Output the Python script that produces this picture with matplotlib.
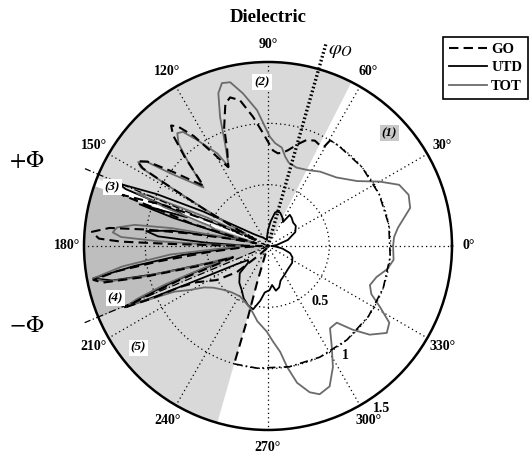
import numpy as np
import matplotlib
matplotlib.use("Agg")
import matplotlib.pyplot as plt
from matplotlib.lines import Line2D

plt.rcParams['font.family'] = ['Liberation Serif', 'DejaVu Serif']
plt.rcParams['mathtext.fontset'] = 'stix'

# TOT (gray) : angle in degrees, amplitude
tot_theta = [0, 4, 8, 11, 15, 20, 25, 30, 36, 45, 55, 62, 70, 76, 79, 82, 86, 89,
             94.6, 99.3, 103, 105.8, 108, 110.4, 112.7, 116.3, 118.7, 123.8, 126.7,
             128.8, 131.1, 133.3, 137.8, 143.3, 145.2, 147.1, 148.3, 148.8, 149.5,
             151, 153, 155, 157, 158, 159.5, 161, 163, 165, 167, 168, 169.5, 171,
             173, 175, 176.5, 177.5, 178.5, 180, 182, 185, 188, 190.5, 192.5, 194,
             195.5, 197, 198.5, 200.5, 202, 203, 204, 206, 209.4, 213, 217.4, 224.4,
             232, 241, 247, 253, 257.4, 262, 269.3, 273, 276.6, 279, 282, 285.9,
             289.2, 293.7, 298.2, 302.4, 307, 311.9, 315.3, 318.9, 323.8, 327.7,
             331.4, 335, 339, 344, 349, 353.7, 360]
tot_r = [1.02, 1.03, 1.07, 1.12, 1.20, 1.22, 1.18, 1.05, 0.90, 0.79, 0.74, 0.70, 0.68,
         0.70, 0.74, 0.81, 0.84, 0.89, 1.11, 1.26, 1.37, 1.38, 1.31, 1.12, 0.91, 0.72,
         0.86, 1.04, 1.16, 1.18, 1.11, 0.96, 0.71, 0.99, 1.20, 1.26, 1.22, 1.00, 0.70,
         0.35, 0.15, 0.55, 1.05, 1.15, 0.90, 0.50, 0.45, 0.20, 0.10, 0.30, 0.80, 1.10,
         1.24, 1.27, 1.20, 0.90, 0.50, 0.15, 0.30, 0.80, 1.20, 1.45, 1.35, 1.00, 0.60,
         0.30, 0.50, 0.90, 1.15, 1.25, 1.10, 0.85, 0.73, 0.62, 0.56, 0.51, 0.48, 0.47,
         0.49, 0.52, 0.56, 0.62, 0.70, 0.78, 0.87, 1.00, 1.14, 1.24, 1.28, 1.25, 1.12,
         0.97, 0.84, 0.84, 0.97, 1.10, 1.20, 1.17, 1.04, 0.93, 0.89, 0.92, 0.99, 1.03,
         1.02]

# GO (dashed)
go_theta = [59.5, 60.5, 62, 66, 70, 74, 78, 81, 84, 87, 92.5, 96.6, 100.9, 104.3, 106.7,
            110.3, 113, 116.8, 120, 124, 127, 128.8, 130.6, 133, 137, 142, 145, 147,
            148.2, 149, 150, 151.5, 153, 156, 158.5, 160.7, 162, 163.6, 165, 167, 169,
            171, 172.3, 173.5, 175.4, 177.5, 178.3, 178.8, 179.3, 180, 183, 186, 188,
            189.5, 191, 192.5, 194, 196, 198, 199.5, 201, 202.5, 203.3, 204.3, 205, 207,
            213.7, 220, 226, 235, 250, 253.4, 254.3, 254]
go_r = [1.00, 0.93, 0.92, 0.94, 0.92, 0.86, 0.80, 0.77, 0.76, 0.78, 0.92, 1.06, 1.21,
        1.25, 1.21, 1.03, 0.85, 0.72, 0.85, 1.08, 1.22, 1.26, 1.19, 1.00, 0.72, 0.98,
        1.20, 1.27, 1.20, 0.90, 0.60, 0.30, 0.10, 0.40, 0.90, 1.26, 0.86, 0.66, 0.30,
        0.10, 0.30, 0.65, 1.00, 1.30, 1.44, 1.38, 1.20, 0.80, 0.40, 0.05, 0.20, 0.50,
        0.90, 1.25, 1.45, 1.38, 1.05, 0.60, 0.30, 0.40, 0.77, 1.10, 1.25, 1.05, 0.79,
        0.65, 0.50, 0.33, 0.10, 0.03, 0.02, 0.31, 0.60, 0.98]

# GO lit region (dash-dot circle)
lit_theta = [254, 265, 280, 295, 310, 325, 340, 355, 370, 385, 400, 415, 419.5]
lit_r = [1.0] * len(lit_theta)

# UTD (black solid)
utd_theta = [0, 6, 17, 27, 36, 43, 50, 55, 58, 63, 70, 75, 78, 84, 90, 95, 100, 110,
             120, 130, 140, 148, 152, 155, 157.3, 158.2, 159, 160.5, 162, 163.5, 166,
             168, 169, 171, 173, 175, 177, 179, 183, 186, 188.5, 190.5, 192.5, 194, 196,
             198, 200, 202, 203.2, 204.2, 206, 210, 215, 220, 224, 232, 239.4, 245,
             251.3, 256.8, 262, 266, 272, 276, 280, 285, 290, 300, 310, 325, 335, 342,
             350, 356, 360]
utd_r = [0.03, 0.07, 0.17, 0.25, 0.28, 0.28, 0.30, 0.31, 0.23, 0.26, 0.29, 0.29, 0.28,
         0.20, 0.13, 0.08, 0.05, 0.06, 0.08, 0.10, 0.15, 0.30, 0.60, 1.00, 1.32, 1.25,
         0.80, 0.70, 1.10, 0.80, 0.30, 0.20, 0.40, 0.80, 1.00, 0.90, 0.50, 0.20, 0.30,
         0.70, 1.10, 1.45, 1.30, 0.95, 0.50, 0.40, 0.70, 1.10, 1.27, 1.00, 0.60, 0.30,
         0.20, 0.21, 0.32, 0.38, 0.42, 0.47, 0.51, 0.53, 0.45, 0.38, 0.36, 0.32, 0.37,
         0.35, 0.30, 0.27, 0.25, 0.24, 0.22, 0.19, 0.12, 0.06, 0.03]

# region wedges (start, end in degrees)
light_region = (63, 254)
white_strip = (158.5, 161)
dark_region = (161, 203)
phi_o = 74
phi_plus, phi_minus = 157.1, 202.7

region_labels = ['(1)', '(2)', '(3)', '(4)', '(5)']
region_pos = [(42.8, 1.35), (92.1, 1.334), (159.3, 1.356), (198.8, 1.314), (218.1, 1.344)]

ang_ticks = list(range(0, 360, 30))
r_tick_labels = ['0.5', '1', '1.5']
r_tick_pos = [(312.9, 0.62), (305.2, 1.088), (305.1, 1.615)]

fig = plt.figure(figsize=(5.31, 4.57), dpi=100)
ax = fig.add_axes([0.1582, 0.0591, 0.6930, 0.8053], projection='polar')
ax.set_ylim(0, 1.5)


def wedge(a, b, color):
    ax.bar(np.radians((a + b) / 2), 1.5, width=np.radians(b - a), bottom=0,
           color=color, edgecolor='none', linewidth=0, zorder=0.5)


wedge(*light_region, '#d9d9d9')
wedge(*white_strip, 'white')
wedge(*dark_region, '#bebebe')

ax.set_thetagrids(ang_ticks, labels=[])
ax.set_rgrids([0.5, 1.0], labels=[])
ax.grid(True, linestyle=(0, (1, 2.5)), color='k', linewidth=0.9)
ax.spines['polar'].set_linewidth(1.8)
ax.tick_params(length=0)

# curves
ax.plot(np.radians(utd_theta), utd_r, color='k', lw=1.3, zorder=3)
ax.plot(np.radians(tot_theta), tot_r, color='#6b6b6b', lw=1.3, zorder=3.5)
ax.plot(np.radians(go_theta), go_r, color='k', lw=1.5, dashes=(4.5, 2.5), zorder=4)
ax.plot(np.radians(lit_theta), lit_r, color='k', lw=1.2, dashes=(5, 2, 1, 2), zorder=4)

# shadow / reflection boundaries
ax.plot(np.radians([phi_o, phi_o]), [0, 1.72], color='k', lw=2.4,
        dashes=(0.5, 0.7), clip_on=False, zorder=5)
for p in (phi_plus, phi_minus):
    ax.plot(np.radians([p, p]), [0, 1.62], color='k', lw=0.9,
            dashes=(6, 2, 1, 2), clip_on=False, zorder=5)

# angle labels
for a in ang_ticks:
    ax.text(np.radians(a), 1.64, f'{a}°', ha='center', va='center',
            fontsize=10, fontweight='bold', clip_on=False)

for lab, (a, r) in zip(r_tick_labels, r_tick_pos):
    ax.text(np.radians(a), r, lab, ha='center', va='center', fontsize=10,
            fontweight='bold', zorder=6)

for i, (lab, (a, r)) in enumerate(zip(region_labels, region_pos)):
    fc = '#c8c8c8' if i == 0 else 'white'
    ax.text(np.radians(a), r, lab, ha='center', va='center', fontsize=9.5,
            fontweight='bold', fontstyle='italic', zorder=7,
            bbox=dict(boxstyle='square,pad=0.15', fc=fc, ec='none'))

fig.text(27 / 531, 1 - 161 / 457, r'$+\Phi$', fontsize=17, ha='center', va='center')
fig.text(27 / 531, 1 - 327 / 457, r'$-\Phi$', fontsize=17, ha='center', va='center')
fig.text(341 / 531, 1 - 50 / 457, r'$\varphi_O$', fontsize=15, ha='center', va='center')

fig.text(268 / 531, 1 - 17 / 457, 'Dielectric', fontsize=13.5, fontweight='bold',
         ha='center', va='center')

handles = [Line2D([], [], color='k', lw=1.5, dashes=(4.5, 2.5)),
           Line2D([], [], color='k', lw=1.3),
           Line2D([], [], color='#6b6b6b', lw=1.3)]
leg = fig.legend(handles, ['GO', 'UTD', 'TOT'], loc='upper right',
                 bbox_to_anchor=(528 / 531, 1 - 37 / 457), fancybox=False,
                 framealpha=1, edgecolor='k', handlelength=2.6, handletextpad=0.3,
                 labelspacing=0.35, borderpad=0.4, borderaxespad=0,
                 prop=dict(weight='bold', size=10.5))
leg.get_frame().set_linewidth(1.2)

fig.savefig('out.png', dpi=100)
